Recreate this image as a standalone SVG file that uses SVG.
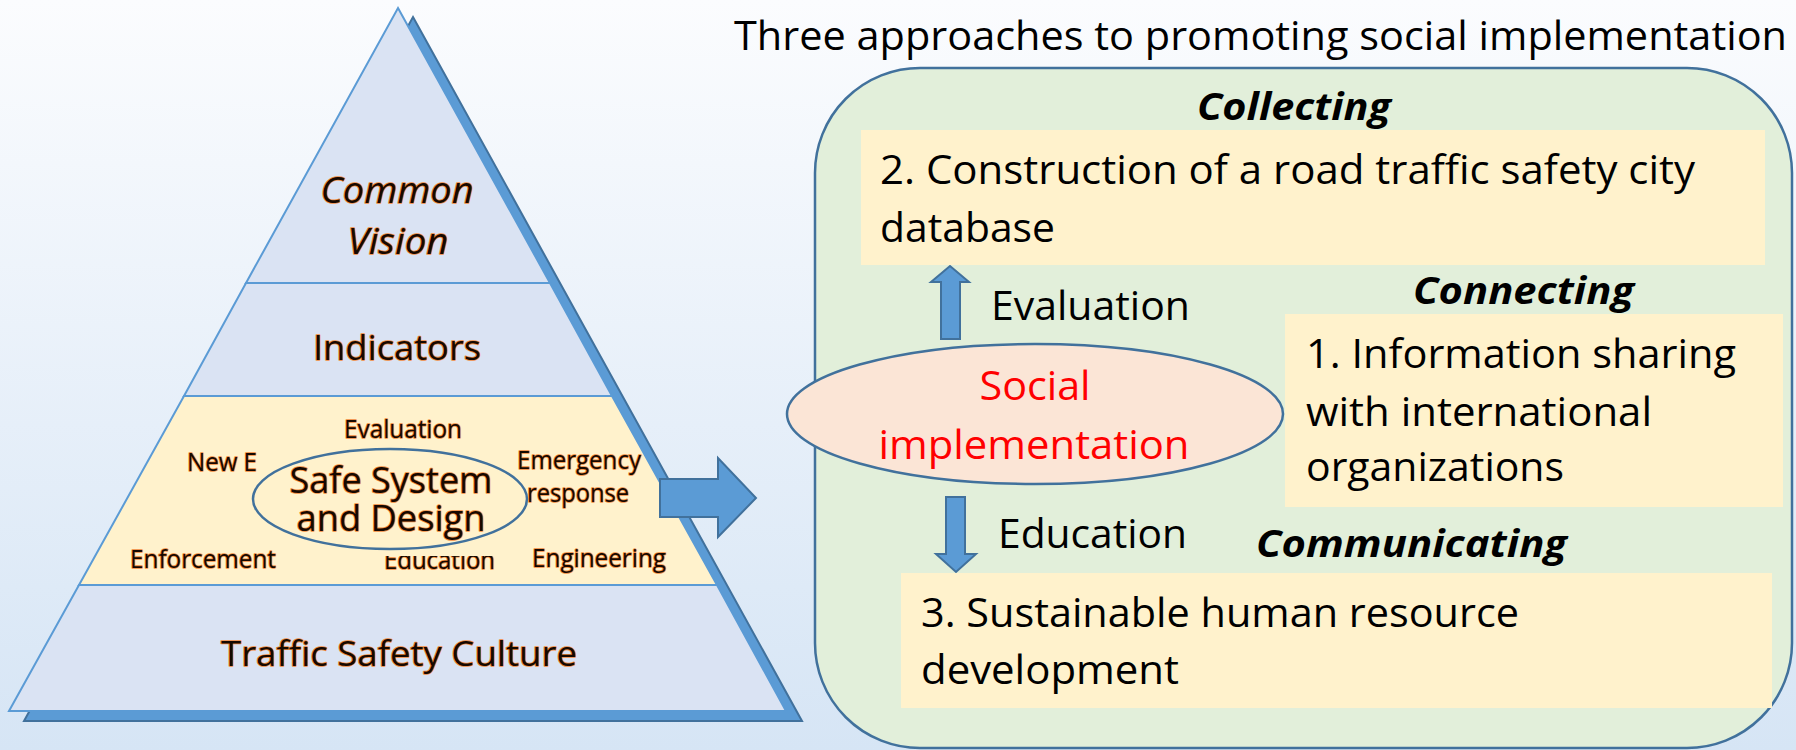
<svg xmlns="http://www.w3.org/2000/svg" width="1796" height="750" viewBox="0 0 1796 750">
<defs>
<linearGradient id="bg" x1="0" y1="0" x2="0" y2="1">
<stop offset="0" stop-color="#fbfcfe"/>
<stop offset="1" stop-color="#d6e5f5"/>
</linearGradient>
<clipPath id="eduClip"><rect x="370" y="556" width="140" height="30"/></clipPath>
</defs>
<style>
.pt{font-family:"Open Sans","Liberation Sans",sans-serif;fill:#160800;stroke:#f08a3c;stroke-width:1.6;paint-order:stroke;stroke-linejoin:round}
.rt{font-family:"Open Sans","Liberation Sans",sans-serif;fill:#000}
.hd{font-family:"Open Sans","Liberation Sans",sans-serif;font-weight:bold;font-style:italic;fill:#000}
.layer{fill:#dae3f3;stroke:#5b9bd5;stroke-width:2}
.yb{fill:#fff2cc}
.barrow{fill:#5b9bd5;stroke:#41719c;stroke-width:2}
</style>
<rect width="1796" height="750" fill="url(#bg)"/>

<g id="pyramid">
<polygon points="413,17 802,721 24,721" fill="#5b9bd5" stroke="#41719c" stroke-width="2"/>
<polygon class="layer" points="398,8 550,283 246,283"/>
<polygon class="layer" points="246,283 550,283 612,396 184,396"/>
<polygon points="184,396 612,396 717,585 79,585" fill="#fff2cc" stroke="#5b9bd5" stroke-width="2"/>
<polygon class="layer" points="79,585 717,585 786,711 9,711"/>
<text class="pt" x="397" y="203" font-size="36" font-style="italic" text-anchor="middle" textLength="153" lengthAdjust="spacingAndGlyphs">Common</text>
<text class="pt" x="398" y="254" font-size="36" font-style="italic" text-anchor="middle" textLength="101" lengthAdjust="spacingAndGlyphs">Vision</text>
<text class="pt" x="397" y="360" font-size="35" text-anchor="middle" textLength="168" lengthAdjust="spacingAndGlyphs">Indicators</text>
<text class="pt" x="399" y="666" font-size="35" text-anchor="middle" textLength="356" lengthAdjust="spacingAndGlyphs">Traffic Safety Culture</text>
</g>

<g id="safe-system">
<text class="pt" x="344" y="438" font-size="25" textLength="118" lengthAdjust="spacingAndGlyphs">Evaluation</text>
<text class="pt" x="187" y="471" font-size="25" textLength="70" lengthAdjust="spacingAndGlyphs">New E</text>
<text class="pt" x="517" y="469" font-size="25" textLength="124" lengthAdjust="spacingAndGlyphs">Emergency</text>
<text class="pt" x="527" y="502" font-size="25" textLength="102" lengthAdjust="spacingAndGlyphs">response</text>
<text class="pt" x="130" y="568" font-size="25" textLength="146" lengthAdjust="spacingAndGlyphs">Enforcement</text>
<text class="pt" x="384" y="569" font-size="25" textLength="111" lengthAdjust="spacingAndGlyphs" clip-path="url(#eduClip)">Education</text>
<text class="pt" x="532" y="567" font-size="25" textLength="134" lengthAdjust="spacingAndGlyphs">Engineering</text>
<ellipse cx="390" cy="499" rx="137" ry="50" fill="none" stroke="#41719c" stroke-width="2.5"/>
<text class="pt" x="391" y="493" font-size="36" text-anchor="middle" textLength="203" lengthAdjust="spacingAndGlyphs">Safe System</text>
<text class="pt" x="391" y="531" font-size="36" text-anchor="middle" textLength="189" lengthAdjust="spacingAndGlyphs">and Design</text>
</g>

<g id="title">
<text class="rt" x="734" y="50" font-size="40" textLength="1053" lengthAdjust="spacingAndGlyphs">Three approaches to promoting social implementation</text>
</g>

<g id="panel">
<rect x="815" y="68" width="977" height="680" rx="105" ry="105" fill="#e2efda" stroke="#41719c" stroke-width="2.5"/>
</g>

<g id="connectors">
<polygon class="barrow" points="660,479 718,479 718,458 756,498 718,537 718,517 660,517"/>
<polygon class="barrow" points="941,339 960,339 960,282 969,282 950,266 931,282 941,282"/>
<polygon class="barrow" points="946,497 965,497 965,554 976,554 956,572 936,554 946,554"/>
</g>

<g id="collecting">
<text class="hd" x="1197" y="120" font-size="38" textLength="194" lengthAdjust="spacingAndGlyphs">Collecting</text>
<rect class="yb" x="861" y="130" width="904" height="135"/>
<text class="rt" x="880" y="184" font-size="40" textLength="815" lengthAdjust="spacingAndGlyphs">2. Construction of a road traffic safety city</text>
<text class="rt" x="880" y="242" font-size="40" textLength="175" lengthAdjust="spacingAndGlyphs">database</text>
</g>

<g id="connecting">
<text class="hd" x="1413" y="304" font-size="38" textLength="221" lengthAdjust="spacingAndGlyphs">Connecting</text>
<rect class="yb" x="1285" y="314" width="498" height="193"/>
<text class="rt" x="1306" y="368" font-size="40" textLength="430" lengthAdjust="spacingAndGlyphs">1. Information sharing</text>
<text class="rt" x="1306" y="426" font-size="40" textLength="346" lengthAdjust="spacingAndGlyphs">with international</text>
<text class="rt" x="1306" y="481" font-size="40" textLength="258" lengthAdjust="spacingAndGlyphs">organizations</text>
</g>

<g id="social">
<ellipse cx="1035" cy="414" rx="248" ry="70" fill="#fbe5d6" stroke="#41719c" stroke-width="2.5"/>
<text class="rt" x="1035" y="400" font-size="40" text-anchor="middle" style="fill:#ff0000" textLength="111" lengthAdjust="spacingAndGlyphs">Social</text>
<text class="rt" x="1034" y="459" font-size="40" text-anchor="middle" style="fill:#ff0000" textLength="311" lengthAdjust="spacingAndGlyphs">implementation</text>
</g>

<g id="labels">
<text class="rt" x="991" y="320" font-size="40" textLength="199" lengthAdjust="spacingAndGlyphs">Evaluation</text>
<text class="rt" x="998" y="548" font-size="40" textLength="189" lengthAdjust="spacingAndGlyphs">Education</text>
</g>

<g id="communicating">
<text class="hd" x="1256" y="557" font-size="38" textLength="311" lengthAdjust="spacingAndGlyphs">Communicating</text>
<rect class="yb" x="901" y="573" width="871" height="135"/>
<text class="rt" x="921" y="627" font-size="40" textLength="598" lengthAdjust="spacingAndGlyphs">3. Sustainable human resource</text>
<text class="rt" x="921" y="684" font-size="40" textLength="258" lengthAdjust="spacingAndGlyphs">development</text>
</g>
</svg>
